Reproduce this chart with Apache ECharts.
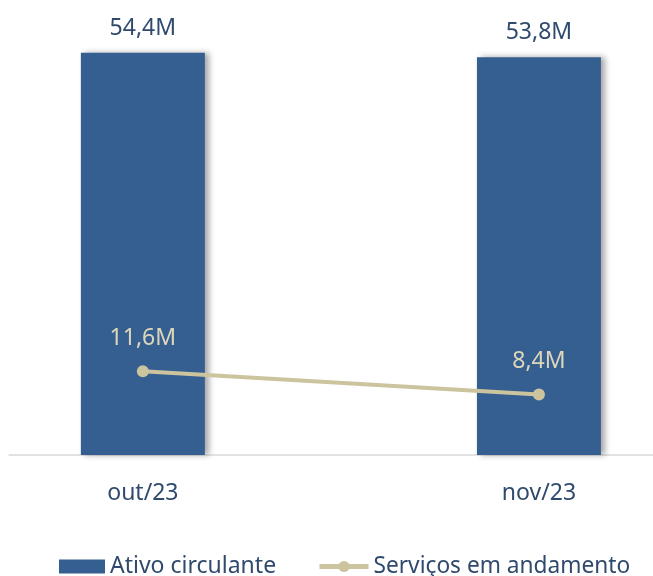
<!DOCTYPE html>
<html>
<head>
<meta charset="utf-8">
<script src="https://cdn.jsdelivr.net/npm/echarts@6/dist/echarts.min.js"></script>
<style>html,body{margin:0;padding:0;background:#fff}#c{width:653px;height:576px}</style>
</head>
<body>
<div id="c"></div>
<script>
const categories = ['out/23', 'nov/23'];
const ativoCirculante = [54.4, 53.8];
const servicosAndamento = [11.6, 8.4];
const seriesNames = ['Ativo circulante', 'Serviços em andamento'];

const fmt = v => v.toFixed(1).replace('.', ',') + 'M';
const FONT = '"Noto Sans", sans-serif';
const chart = echarts.init(document.getElementById('c'), null, {renderer: 'canvas'});
chart.setOption({
  animation: false,
  textStyle: {fontFamily: FONT},
  grid: {left: 9, right: 0, top: 11.3, bottom: 121, containLabel: false},
  xAxis: {
    type: 'value', min: -0.338, max: 1.288,
    axisLine: {show: true, lineStyle: {color: '#d9d9d9', width: 1.5}},
    axisTick: {show: false},
    splitLine: {show: false},
    axisLabel: {
      customValues: categories.map((c, i) => i),
      formatter: v => categories[Math.round(v)],
      color: '#2F4A6D', fontSize: 23, fontFamily: FONT, margin: 27
    }
  },
  yAxis: [
    {type: 'value', min: 0, max: 60, show: false},
    {type: 'value', min: 0, max: 61.5, show: false}
  ],
  legend: [
    {data: [{name: seriesNames[0], icon: 'rect'}], left: 54, top: 550, itemWidth: 46, itemHeight: 14,
     textStyle: {color: '#2F4A6D', fontSize: 23, fontFamily: FONT}},
    {data: [seriesNames[1]], left: 312, top: 550, itemWidth: 49, itemHeight: 14,
     lineStyle: {width: 5},
     textStyle: {color: '#2F4A6D', fontSize: 22.7, fontFamily: FONT}}
  ],
  series: [
    {
      name: seriesNames[0], type: 'bar', barWidth: 124,
      data: ativoCirculante.map((v, i) => [i, v]),
      itemStyle: {color: '#365F91', shadowColor: 'rgba(0,0,0,0.35)', shadowBlur: 6, shadowOffsetX: 4, shadowOffsetY: 0},
      label: {show: true, position: 'top', distance: 13, formatter: p => fmt(p.value[1]),
        color: '#2F4A6D', fontSize: 23, fontFamily: FONT}
    },
    {
      name: seriesNames[1], type: 'line', yAxisIndex: 1,
      data: servicosAndamento.map((v, i) => [i, v]),
      symbol: 'circle', symbolSize: 12,
      lineStyle: {color: '#CCC49F', width: 4},
      itemStyle: {color: '#CCC49F'},
      label: {show: true, position: 'top', distance: 15, formatter: p => fmt(p.value[1]),
        color: '#DDD7BA', fontSize: 23, fontFamily: FONT}
    }
  ]
});
</script>
</body>
</html>
